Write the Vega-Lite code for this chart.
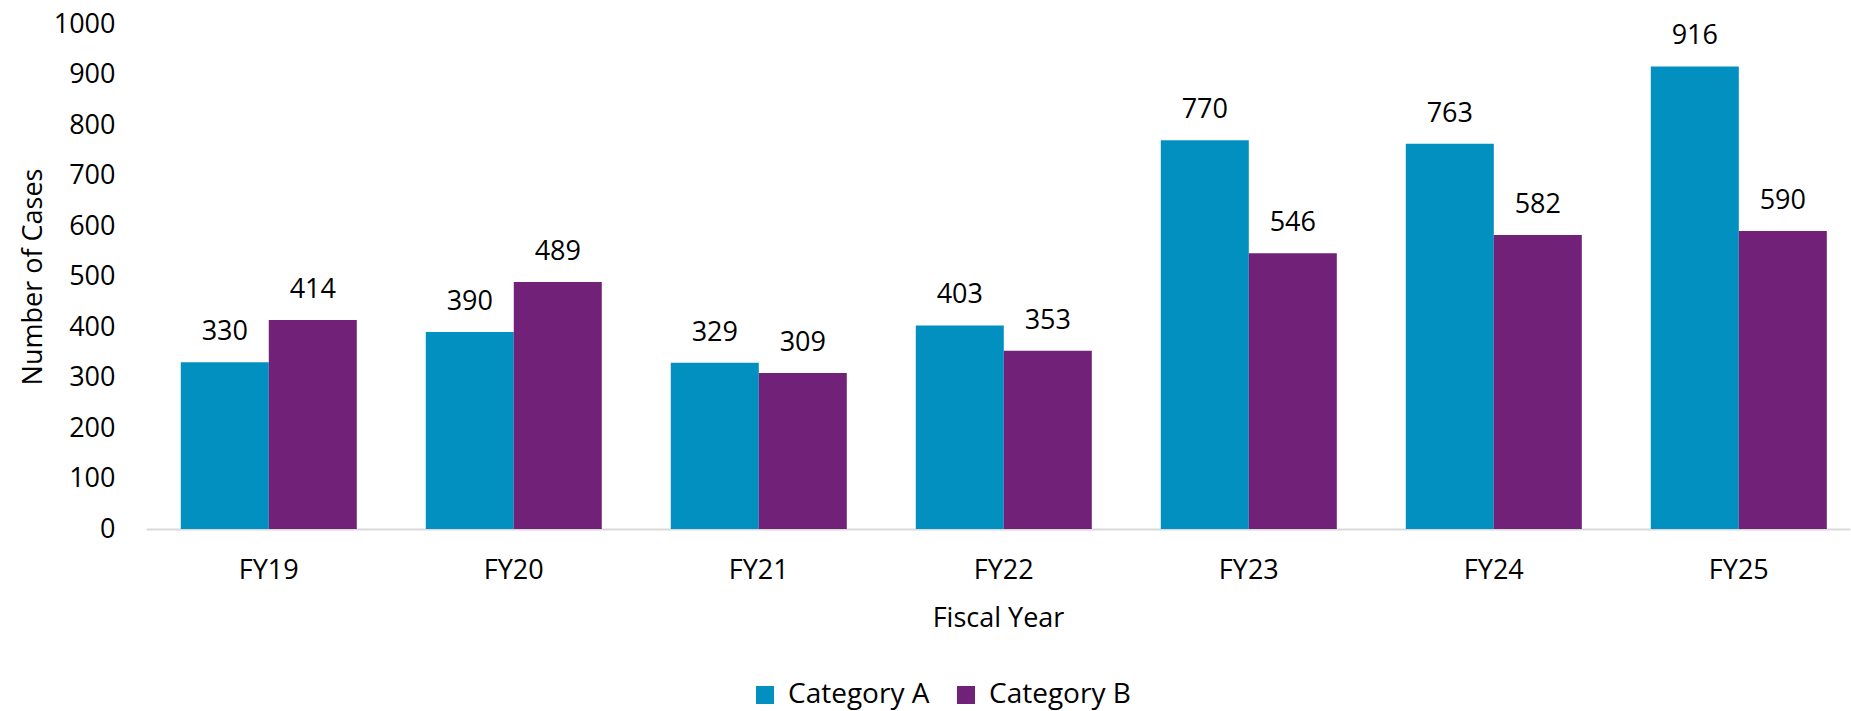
{
  "$schema": "https://vega.github.io/schema/vega-lite/v6.json",
  "autosize": {"type": "none"},
  "width": 1704,
  "height": 505,
  "padding": {"left": 146, "top": 24, "right": 1, "bottom": 182},
  "background": "white",
  "config": {
    "font": "Open Sans",
    "view": {"stroke": null},
    "axis": {"labelFont": "Open Sans", "titleFont": "Open Sans", "labelFontSize": 27, "titleFontSize": 27, "labelColor": "#000000", "titleColor": "#000000", "titleFontWeight": "normal", "grid": false, "ticks": false, "tickSize": 0},
    "legend": {"labelFont": "Open Sans", "labelFontSize": 28, "labelColor": "#000000"}
  },
  "data": {
    "values": [
      {"year": "FY19", "category": "Category A", "cases": 330},
      {"year": "FY19", "category": "Category B", "cases": 414},
      {"year": "FY20", "category": "Category A", "cases": 390},
      {"year": "FY20", "category": "Category B", "cases": 489},
      {"year": "FY21", "category": "Category A", "cases": 329},
      {"year": "FY21", "category": "Category B", "cases": 309},
      {"year": "FY22", "category": "Category A", "cases": 403},
      {"year": "FY22", "category": "Category B", "cases": 353},
      {"year": "FY23", "category": "Category A", "cases": 770},
      {"year": "FY23", "category": "Category B", "cases": 546},
      {"year": "FY24", "category": "Category A", "cases": 763},
      {"year": "FY24", "category": "Category B", "cases": 582},
      {"year": "FY25", "category": "Category A", "cases": 916},
      {"year": "FY25", "category": "Category B", "cases": 590}
    ]
  },
  "encoding": {
    "x": {
      "field": "year", "type": "nominal", "sort": null,
      "scale": {"paddingInner": 0.2816, "paddingOuter": 0.1183, "align": 0.6},
      "axis": {"title": "Fiscal Year", "labelAngle": 0, "labelPadding": 28, "titlePadding": 22, "domainColor": "#d9d9d9", "domainWidth": 2}
    },
    "xOffset": {"field": "category", "type": "nominal", "scale": {"paddingInner": 0, "paddingOuter": 0}},
    "y": {
      "field": "cases", "type": "quantitative",
      "scale": {"domain": [0, 1000], "nice": false},
      "axis": {"title": "Number of Cases", "format": "d", "values": [0, 100, 200, 300, 400, 500, 600, 700, 800, 900, 1000], "domain": false, "labelPadding": 31, "titlePadding": 6}
    }
  },
  "layer": [
    {
      "mark": {"type": "bar"},
      "encoding": {
        "color": {
          "field": "category", "type": "nominal",
          "scale": {"domain": ["Category A", "Category B"], "range": ["#0290C0", "#712177"]},
          "legend": {"title": null, "orient": "none", "direction": "horizontal", "legendX": 605, "legendY": 657, "symbolType": "square", "symbolSize": 324, "symbolStrokeWidth": 0, "labelOffset": 9, "columnPadding": 22}
        }
      }
    },
    {
      "mark": {"type": "text", "baseline": "alphabetic", "dy": -22, "fontSize": 27, "color": "#000000", "font": "Open Sans"},
      "encoding": {"text": {"field": "cases", "type": "quantitative"}}
    }
  ]
}
